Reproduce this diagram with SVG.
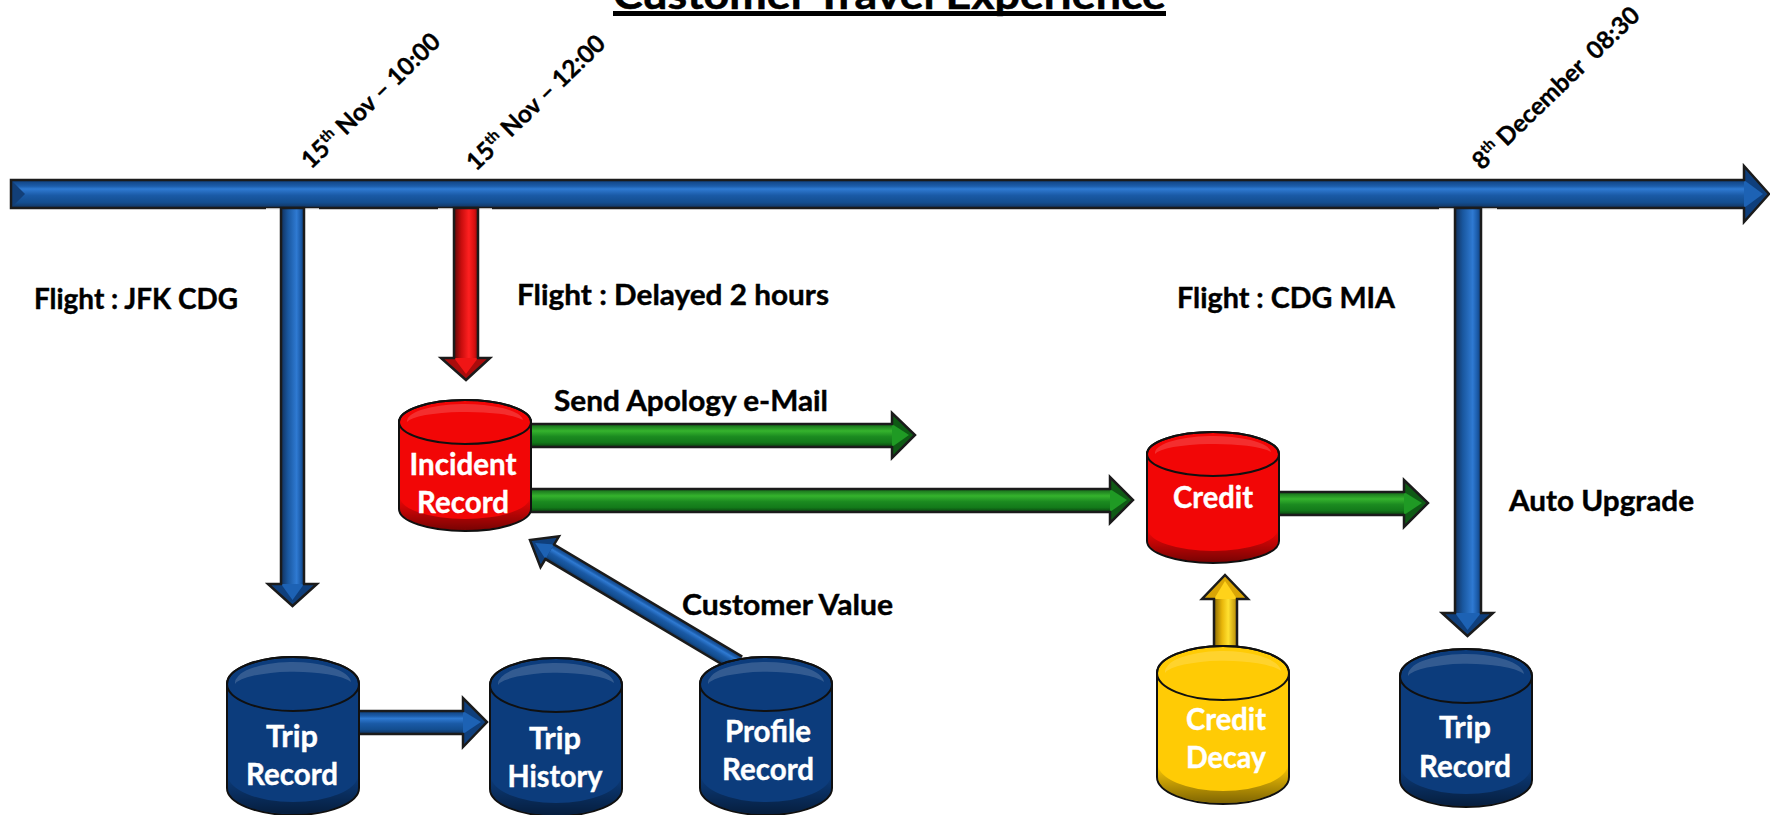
<svg xmlns="http://www.w3.org/2000/svg" xmlns:xlink="http://www.w3.org/1999/xlink" width="1770" height="815" viewBox="0 0 1770 815">
<style>
text{font-family:Lato,Carlito,"Open Sans",sans-serif;font-weight:700}
.lb{font-size:28px;fill:#000;stroke:#000;stroke-width:.4}
.dt{font-size:24.500px;fill:#000;stroke:#000;stroke-width:.3}
.nt{font-size:30px;fill:#fff;text-anchor:middle;stroke:#fff;stroke-width:.4}
.edge{fill:none;stroke:#1b1b1b;stroke-width:2.5;stroke-linejoin:miter}
.navy{fill:#0c3c7c}.red{fill:#f20606}.gold{fill:#ffcb05}
.cs{stroke:#101010;stroke-width:2}
.hb{fill:#0f3f7c}.hb2{fill:#1d62b4}
.hr{fill:#a90c0c}.hr2{fill:#f01515}
.hg{fill:#0f5a15}.hg2{fill:#1f9a24}
.hy{fill:#d9a506}.hy2{fill:#ffd21a}
</style>
<defs>
<linearGradient id="bh" x1="0" y1="0" x2="0" y2="1"><stop offset="0" stop-color="#0f3f7c"/><stop offset=".22" stop-color="#1c5dab"/><stop offset=".32" stop-color="#2f7ad2"/><stop offset=".55" stop-color="#1a5aa6"/><stop offset=".8" stop-color="#134e90"/><stop offset="1" stop-color="#12325c"/></linearGradient>
<linearGradient id="bv" x1="0" y1="0" x2="1" y2="0"><stop offset="0" stop-color="#12305a"/><stop offset=".3" stop-color="#19579f"/><stop offset=".68" stop-color="#2f7ad2"/><stop offset=".85" stop-color="#1c5dab"/><stop offset="1" stop-color="#0f3f7c"/></linearGradient>
<linearGradient id="rv" x1="0" y1="0" x2="1" y2="0"><stop offset="0" stop-color="#5c0a0a"/><stop offset=".3" stop-color="#c70d0d"/><stop offset=".62" stop-color="#ff2020"/><stop offset=".85" stop-color="#d81010"/><stop offset="1" stop-color="#8a0c0c"/></linearGradient>
<linearGradient id="gh" x1="0" y1="0" x2="0" y2="1"><stop offset="0" stop-color="#14661a"/><stop offset=".3" stop-color="#35b32d"/><stop offset=".55" stop-color="#1b8a20"/><stop offset=".8" stop-color="#137a1a"/><stop offset="1" stop-color="#0b4210"/></linearGradient>
<linearGradient id="yv" x1="0" y1="0" x2="1" y2="0"><stop offset="0" stop-color="#8a6a05"/><stop offset=".35" stop-color="#e8b60a"/><stop offset=".62" stop-color="#ffe030"/><stop offset="1" stop-color="#b58a06"/></linearGradient>
<linearGradient id="shade" x1="0" y1="0" x2="0" y2="1"><stop offset="0" stop-color="#000" stop-opacity="0"/><stop offset="1" stop-color="#000" stop-opacity=".5"/></linearGradient>
<g id="cylS">
<path class="cs" d="M0,22A66,22 0 0 1 132,22V109A66,22 0 0 1 0,109Z"/>
<path fill="url(#shade)" d="M1,97A65,22 0 0 0 131,97V109A65,21 0 0 1 1,109Z"/>
<ellipse class="cs" fill="none" cx="66" cy="22" rx="66" ry="22"/>
<path fill="#fff" fill-opacity=".16" d="M8,22A58,17 0 0 1 124,20A60,12 0 0 0 8,22Z"/>
</g>
<g id="cylT">
<path class="cs" d="M0,27A66,27 0 0 1 132,27V131A66,27 0 0 1 0,131Z"/>
<path fill="url(#shade)" d="M1,118A65,27 0 0 0 131,118V131A65,26 0 0 1 1,131Z"/>
<ellipse class="cs" fill="none" cx="66" cy="27" rx="66" ry="27"/>
<path fill="#fff" fill-opacity=".16" d="M8,27A58,21 0 0 1 124,25A60,15 0 0 0 8,27Z"/>
</g>
</defs>
<rect width="1770" height="815" fill="#fff"/>
<g id="title">
<text x="613" y="9" font-size="40" textLength="553" lengthAdjust="spacingAndGlyphs" fill="#000" stroke="#000" stroke-width=".5">Customer Travel Experience</text>
<rect x="613" y="11" width="553" height="5" fill="#000"/>
</g>
<g id="connectors">
<g id="axis">
<rect x="11" y="180" width="1734" height="28" fill="url(#bh)"/>
<polygon points="1744,166 1769,194 1744,222" class="hb"/>
<polygon points="1744,180 1763,194 1744,208" class="hb2"/>
<polygon points="11,180 25,194 11,208" fill="#123f78"/>
<path class="edge" d="M11,180H1744V166L1769,194L1744,222V208H11Z"/>
</g>
<g id="arrow-jfk">
<rect x="266" y="208.300" width="53" height="1.500" fill="#fff"/>
<rect x="281" y="208" width="23" height="376" fill="url(#bv)"/>
<polygon points="268,584 292.500,606 317,584" class="hb"/>
<polygon points="281,584 292.500,600 304,584" class="hb2"/>
<path class="edge" d="M281,208H304V584H317L292.500,606L268,584H281Z"/>
</g>
<g id="arrow-delay">
<rect x="438" y="208.300" width="54" height="1.500" fill="#fff"/>
<rect x="454" y="208" width="24" height="150" fill="url(#rv)"/>
<polygon points="441,358 466,380 490,358" class="hr"/>
<polygon points="454,358 466,374 478,358" class="hr2"/>
<path class="edge" d="M454,208H478V358H490L466,380L441,358H454Z"/>
</g>
<g id="arrow-auto">
<rect x="1439" y="208.300" width="58" height="1.500" fill="#fff"/>
<rect x="1455" y="208" width="26" height="405" fill="url(#bv)"/>
<polygon points="1442,613 1467.500,636 1493,613" class="hb"/>
<polygon points="1455,613 1467.500,630 1481,613" class="hb2"/>
<path class="edge" d="M1455,208H1481V613H1493L1467.500,636L1442,613H1455Z"/>
</g>
<g id="arrow-apology">
<rect x="531" y="424" width="361" height="23" fill="url(#gh)"/>
<polygon points="892,413 915,435 892,458" class="hg"/>
<polygon points="892,424 909,435 892,447" class="hg2"/>
<path class="edge" d="M531,424H892V413L915,435L892,458V447H531"/>
</g>
<g id="arrow-credit">
<rect x="529" y="489" width="581" height="23" fill="url(#gh)"/>
<polygon points="1110,477 1133,500 1110,523" class="hg"/>
<polygon points="1110,489 1127,500 1110,512" class="hg2"/>
<path class="edge" d="M529,489H1110V477L1133,500L1110,523V512H529"/>
</g>
<g id="arrow-upgrade">
<rect x="1277" y="492" width="127" height="23" fill="url(#gh)"/>
<polygon points="1404,480 1428,503 1404,527" class="hg"/>
<polygon points="1404,492 1422,503 1404,515" class="hg2"/>
<path class="edge" d="M1277,492H1404V480L1428,503L1404,527V515H1277"/>
</g>
<g id="arrow-history">
<rect x="358" y="711" width="105" height="23" fill="url(#bh)"/>
<polygon points="463,698 487,722 463,747" class="hb"/>
<polygon points="463,711 481,722 463,734" class="hb2"/>
<path class="edge" d="M358,711H463V698L487,722L463,747V734H358"/>
</g>
<g id="arrow-value" transform="translate(530,540) rotate(30.800)">
<rect x="22" y="-8.500" width="220" height="17" fill="url(#bh)"/>
<polygon points="0,0 23,-18 23,18" class="hb"/>
<polygon points="6,0 23,-8.500 23,8.500" class="hb2"/>
<path class="edge" d="M242,-8.500H23V-18L0,0L23,18V8.500H242"/>
</g>
<g id="arrow-decay">
<rect x="1214" y="599" width="23" height="47" fill="url(#yv)"/>
<polygon points="1202,599 1225,575 1248,599" class="hy"/>
<polygon points="1214,599 1225,581 1237,599" class="hy2"/>
<path class="edge" d="M1214,646V599H1202L1225,575L1248,599H1237V646"/>
</g>
</g>
<g id="node-incident" class="red" transform="translate(399,400)"><use href="#cylS"/></g>
<g id="node-credit" class="red" transform="translate(1147,432)"><use href="#cylS"/></g>
<g id="node-trip1" class="navy" transform="translate(227,657)"><use href="#cylT"/></g>
<g id="node-history" class="navy" transform="translate(490,658)"><use href="#cylT"/></g>
<g id="node-profile" class="navy" transform="translate(700,657)"><use href="#cylT"/></g>
<g id="node-decay" class="gold" transform="translate(1157,646)"><use href="#cylT"/></g>
<g id="node-trip2" class="navy" transform="translate(1400,649)"><use href="#cylT"/></g>
<g id="labels">
<text class="nt" x="463" y="475" textLength="107" lengthAdjust="spacingAndGlyphs">Incident</text>
<text class="nt" x="463" y="513" textLength="92" lengthAdjust="spacingAndGlyphs">Record</text>
<text class="nt" x="1213" y="508" textLength="80" lengthAdjust="spacingAndGlyphs">Credit</text>
<text class="nt" x="292" y="747" textLength="52" lengthAdjust="spacingAndGlyphs">Trip</text>
<text class="nt" x="292" y="785" textLength="92" lengthAdjust="spacingAndGlyphs">Record</text>
<text class="nt" x="555" y="749" textLength="52" lengthAdjust="spacingAndGlyphs">Trip</text>
<text class="nt" x="555" y="787" textLength="95" lengthAdjust="spacingAndGlyphs">History</text>
<text class="nt" x="768" y="742" textLength="86" lengthAdjust="spacingAndGlyphs">Profile</text>
<text class="nt" x="768" y="780" textLength="92" lengthAdjust="spacingAndGlyphs">Record</text>
<text class="nt" x="1226" y="730" textLength="80" lengthAdjust="spacingAndGlyphs">Credit</text>
<text class="nt" x="1226" y="768" textLength="80" lengthAdjust="spacingAndGlyphs">Decay</text>
<text class="nt" x="1465" y="738" textLength="52" lengthAdjust="spacingAndGlyphs">Trip</text>
<text class="nt" x="1465" y="777" textLength="92" lengthAdjust="spacingAndGlyphs">Record</text>
<text class="lb" x="34" y="309" textLength="204" lengthAdjust="spacingAndGlyphs">Flight : JFK CDG</text>
<text class="lb" x="517" y="305" textLength="312" lengthAdjust="spacingAndGlyphs">Flight : Delayed 2 hours</text>
<text class="lb" x="1177" y="308" textLength="218" lengthAdjust="spacingAndGlyphs">Flight : CDG MIA</text>
<text class="lb" x="554" y="411" textLength="274" lengthAdjust="spacingAndGlyphs">Send Apology e-Mail</text>
<text class="lb" x="682" y="615" textLength="211" lengthAdjust="spacingAndGlyphs">Customer Value</text>
<text class="lb" x="1509" y="511" textLength="185" lengthAdjust="spacingAndGlyphs">Auto Upgrade</text>
<text class="dt" transform="translate(311,170) rotate(-44)">15<tspan font-size="15" dy="-9">th</tspan><tspan dy="9"> Nov – 10:00</tspan></text>
<text class="dt" transform="translate(476,172) rotate(-44)">15<tspan font-size="15" dy="-9">th</tspan><tspan dy="9"> Nov – 12:00</tspan></text>
<text class="dt" xml:space="preserve" transform="translate(1482,171) rotate(-44)">8<tspan font-size="15" dy="-9">th</tspan><tspan dy="9"> December  08:30</tspan></text>
</g>
</svg>
